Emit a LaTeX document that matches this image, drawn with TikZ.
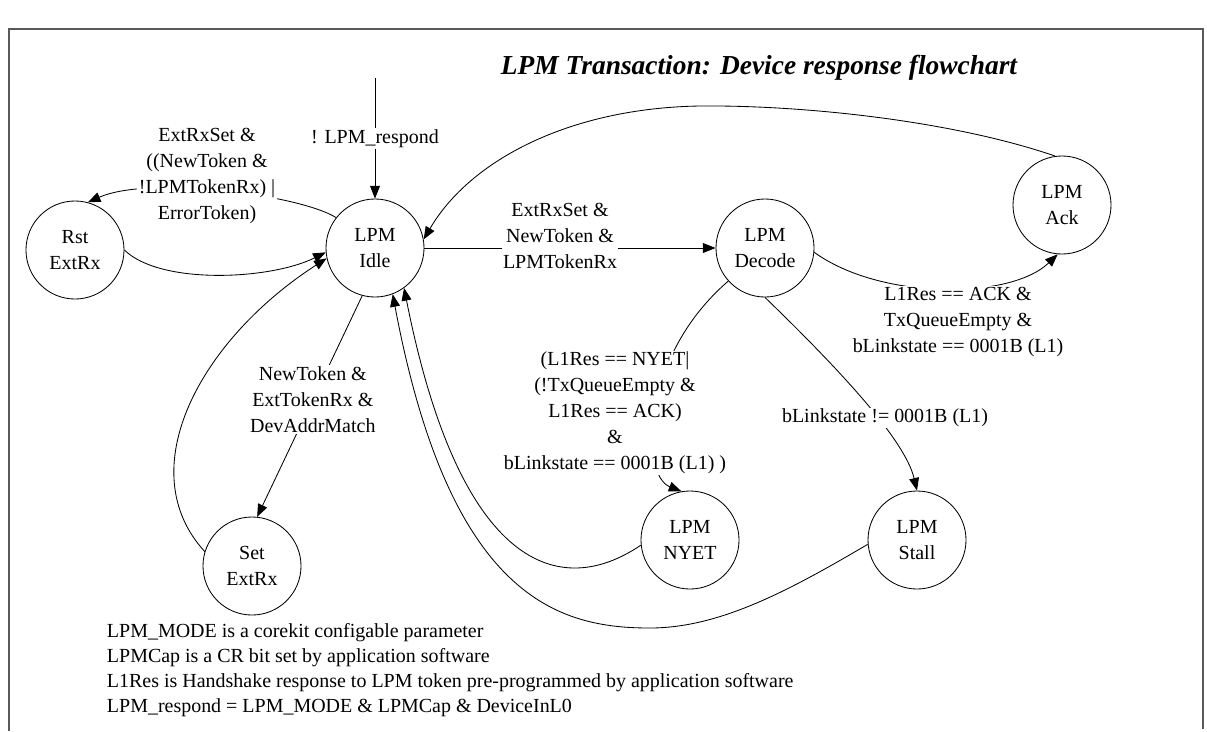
\documentclass[tikz,border=0pt]{standalone}
\usepackage{fontspec}
\setmainfont{Liberation Serif}
\usetikzlibrary{arrows.meta}

\begin{document}
\begin{tikzpicture}[
    x=0.025cm, y=-0.025cm,
    font=\fontsize{14.2}{18.5}\selectfont,
    state/.style={draw, circle, line width=0.6pt, minimum size=2.45cm, inner sep=0pt, align=center},
    cond/.style={fill=white, align=center, inner sep=1pt},
    arrow/.style={-{Triangle[length=9pt, width=7pt]}, line width=0.6pt}
]
    \useasboundingbox (0,0) rectangle (1207,731);
    \draw[line width=1.4pt, black!65] (9,731) -- (9,29) -- (1203,29) -- (1203,729);

    \node[font=\fontsize{19.5}{23}\selectfont\bfseries\itshape] (title) at (759,68) {LPM Transaction: Device response flowchart};

    \node[state] (rst) at (75,250) {Rst\\ExtRx};
    \node[state] (idle) at (375,248) {LPM\\Idle};
    \node[state] (decode) at (765,248) {LPM\\Decode};
    \node[state] (ack) at (1062,205) {LPM\\Ack};
    \node[state] (set) at (252,566) {Set\\ExtRx};
    \node[state] (nyet) at (690,540) {LPM\\NYET};
    \node[state] (stall) at (917,540) {LPM\\Stall};
    \coordinate (entry) at (375,78);

    \draw[arrow] (entry) -- node[cond] (lresp) {! LPM\_respond} (idle);
    \draw[arrow] (idle.142) .. controls (300,195) and (150,175) .. (rst.75);
    \draw[arrow] (rst.0) .. controls (160,285) and (270,280) .. (idle.185);
    \draw[arrow] (idle) -- (decode);
    \draw[arrow] (idle.255) -- node[cond, pos=0.47] (lset) {NewToken \&\\ExtTokenRx \&\\DevAddrMatch} (set.84);
    \draw[arrow] (set.163) .. controls (130,470) and (200,340) .. (idle.192);
    \draw[arrow] (decode.222) .. controls (640,357) and (640,475) .. (nyet.100);
    \draw[arrow] (decode.355) .. controls (880,300) and (1010,300) .. (ack.265);
    \draw[arrow] (decode.270) .. controls (840,370) and (905,440) .. (stall.north);
    \draw[arrow] (nyet.186) .. controls (560,600) and (460,570) .. (idle.306);
    \draw[arrow] (stall.185) .. controls (790,590) and (720,628) .. (650,628)
        .. controls (560,628) and (450,600) .. (idle.291);
    \draw[arrow] (ack.98) .. controls (950,120) and (800,105) .. (700,106)
        .. controls (570,108) and (470,160) .. (idle.10);

    \node[cond] (lrst) at (207,176) {ExtRxSet \&\\((NewToken \&\\!LPMTokenRx) |\\ErrorToken)};
    \node[cond] (ldecode) at (560,236) {ExtRxSet \&\\NewToken \&\\LPMTokenRx};
    \node[cond] (lnyet) at (615,413) {(L1Res == NYET|\\(!TxQueueEmpty \&\\L1Res == ACK)\\\&\\bLinkstate == 0001B (L1) )};
    \node[cond] (lack) at (958,322) {L1Res == ACK \&\\TxQueueEmpty \&\\bLinkstate == 0001B (L1)};
    \node[cond] (lstall) at (885,418) {bLinkstate != 0001B (L1)};

    \node[anchor=west, align=left, font=\fontsize{14.2}{17.8}\selectfont] (notes) at (102,670)
        {LPM\_MODE is a corekit configable parameter\\
         LPMCap is a CR bit set by application software\\
         L1Res is Handshake response to LPM token pre-programmed by application software\\
         LPM\_respond = LPM\_MODE \& LPMCap \& DeviceInL0};
\end{tikzpicture}
\end{document}
